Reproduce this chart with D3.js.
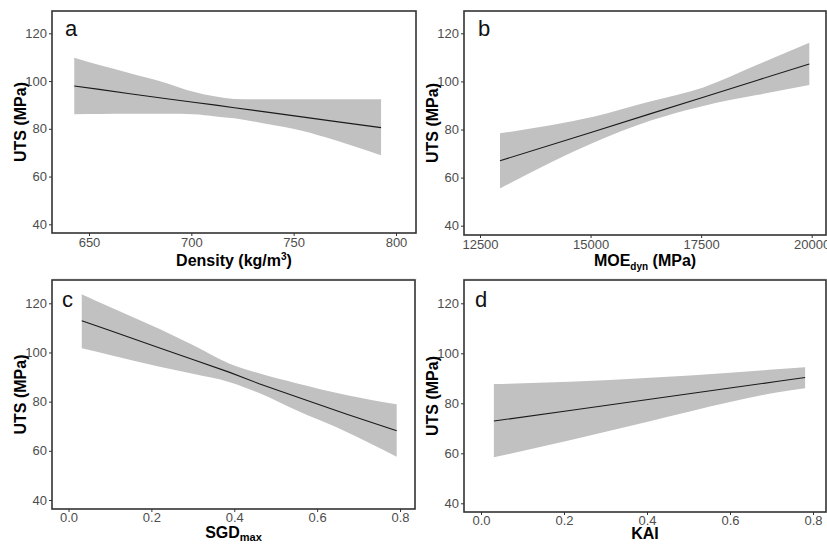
<!DOCTYPE html>
<html>
<head>
<meta charset="utf-8">
<script src="https://cdn.jsdelivr.net/npm/d3@7"></script>
<style>
  body{margin:0;background:#fff;}
  svg{display:block;font-family:"Liberation Sans",Arial,sans-serif;}
</style>
</head>
<body>
<svg id="chart" width="827" height="544"></svg>
<script>
// panel a : density
var aX   = [642.8, 655, 670, 688, 701, 712, 721, 737, 754, 770, 792.7];
var aFit = [97.9, 96.5, 94.7, 92.6, 91.1, 89.9, 88.8, 87.0, 85.0, 83.1, 80.5];
var aLo  = [86.1, 86.2, 86.3, 86.3, 86.1, 85.2, 84.4, 82.0, 79.2, 75.3, 68.9];
var aHi  = [109.8, 106.7, 103.3, 99.1, 95.5, 93.5, 92.5, 92.4, 92.4, 92.4, 92.4];
// panel b : MOEdyn
var bX   = [12952, 15062, 16344, 17549, 18755, 19946];
var bFit = [67.0, 79.1, 86.5, 93.4, 100.4, 107.2];
var bLo  = [55.5, 74.5, 83.6, 89.8, 94.3, 98.5];
var bHi  = [78.4, 85.3, 91.6, 97.5, 106.8, 116.1];
// panel c : SGDmax
var cX   = [0.032, 0.1, 0.22, 0.3, 0.389, 0.46, 0.55, 0.67, 0.792];
var cFit = [112.9, 108.9, 101.8, 97.1, 91.9, 87.3, 82.0, 75.0, 68.2];
var cLo  = [101.7, 99.0, 94.2, 91.3, 87.9, 83.5, 76.5, 67.8, 57.6];
var cHi  = [123.7, 118.5, 109.5, 103.0, 95.4, 91.5, 87.5, 82.7, 78.9];
// panel d : KAI
var dX   = [0.031, 0.214, 0.407, 0.6, 0.712, 0.781];
var dFit = [72.9, 77.1, 81.6, 86.1, 88.7, 90.3];
var dLo  = [58.4, 65.2, 72.8, 80.5, 84.3, 86.0];
var dHi  = [87.7, 88.6, 90.2, 92.2, 93.6, 94.4];

var yTicks = [40, 60, 80, 100, 120];
var aTicks = [650, 700, 750, 800];
var bTicks = [12500, 15000, 17500, 20000];
var cTicks = [0, 0.2, 0.4, 0.6, 0.8];
var dTicks = [0, 0.2, 0.4, 0.6, 0.8];

var svg = d3.select("#chart");

function rows(xs, fit, lo, hi){   // zip arrays into point objects
  return xs.map(function(x, i){ return {x:x, fit:fit[i], lo:lo[i], hi:hi[i]}; });
}

var panels = [
  {tag:"a", data:rows(aX,aFit,aLo,aHi), ticks:aTicks, fmt:d3.format("d"),
   box:[52,11,416,233], xr:[650,800,89,396], yr:[224.3,33.3],
   lab:[65,36], title:"density", ytx:20, ttly:266, pad:2},
  {tag:"b", data:rows(bX,bFit,bLo,bHi), ticks:bTicks, fmt:d3.format("d"),
   box:[464,11,826,235], xr:[12500,20000,480,811.7], yr:[225.7,33.3],
   lab:[478,36], title:"moe", ytx:432, ttly:266, pad:2},
  {tag:"c", data:rows(cX,cFit,cLo,cHi), ticks:cTicks, fmt:d3.format(".1f"),
   box:[52,280,415,509], xr:[0,0.8,68.5,400], yr:[500,303.3],
   lab:[62,307], title:"sgd", ytx:20, ttly:538, pad:1},
  {tag:"d", data:rows(dX,dFit,dLo,dHi), ticks:dTicks, fmt:d3.format(".1f"),
   box:[464,280,826,512], xr:[0,0.8,481,813], yr:[503.3,303.3],
   lab:[475,307], title:"kai", ytx:432, ttly:539, pad:1}
];

// faint strip under the top row
svg.append("line").attr("x1",52).attr("x2",417).attr("y1",279).attr("y2",279)
  .attr("stroke","#ececec").attr("stroke-width",1.5);
svg.append("line").attr("x1",463).attr("x2",827).attr("y1",279).attr("y2",279)
  .attr("stroke","#ececec").attr("stroke-width",1.5);

panels.forEach(function(p){
  var b = p.box;
  var x = d3.scaleLinear().domain([p.xr[0], p.xr[1]]).range([p.xr[2], p.xr[3]]);
  var y = d3.scaleLinear().domain([40, 120]).range(p.yr);
  var g = svg.append("g");

  var area = d3.area().curve(d3.curveMonotoneX)
    .x(function(d){ return x(d.x); })
    .y0(function(d){ return y(d.lo); })
    .y1(function(d){ return y(d.hi); });
  var line = d3.line()
    .x(function(d){ return x(d.x); })
    .y(function(d){ return y(d.fit); });

  g.append("path").datum(p.data).attr("d", area).attr("fill", "#c1c1c1");
  g.append("path").datum(p.data).attr("d", line)
    .attr("fill", "none").attr("stroke", "#1a1a1a").attr("stroke-width", 1.1);

  // axes
  var ya = g.append("g").attr("transform", "translate(" + b[0] + ",0)")
    .call(d3.axisLeft(y).tickValues(yTicks).tickSize(3).tickPadding(2));
  var xa = g.append("g").attr("transform", "translate(0," + b[3] + ")")
    .call(d3.axisBottom(x).tickValues(p.ticks).tickFormat(p.fmt).tickSize(3).tickPadding(p.pad));
  [ya, xa].forEach(function(ax){
    ax.select(".domain").remove();
    ax.selectAll("line").attr("stroke", "#333");
    ax.selectAll("text").attr("fill", "#4d4d4d").style("font-size", "13px")
      .style("font-family", "'Liberation Sans',Arial,sans-serif");
  });

  // panel frame
  g.append("rect").attr("x", b[0]).attr("y", b[1])
    .attr("width", b[2] - b[0]).attr("height", b[3] - b[1])
    .attr("fill", "none").attr("stroke", "#333").attr("stroke-width", 1.6);

  // panel letter
  g.append("text").attr("x", p.lab[0]).attr("y", p.lab[1])
    .style("font-size", "22px").attr("fill", "#111").text(p.tag);

  // y title
  g.append("text")
    .attr("transform", "translate(" + p.ytx + "," + ((b[1] + b[3]) / 2) + ") rotate(-90)")
    .attr("text-anchor", "middle").attr("dy", "0.36em")
    .style("font-size", "16px").style("font-weight", "bold").text("UTS (MPa)");

  // x title
  var t = g.append("text").attr("x", (b[0] + b[2]) / 2).attr("y", p.ttly)
    .attr("text-anchor", "middle").style("font-size", "16px").style("font-weight", "bold");
  if (p.title == "density") {
    t.append("tspan").text("Density (kg/m");
    t.append("tspan").attr("dy", -6).style("font-size", "10px").text("3");
    t.append("tspan").attr("dy", 6).text(")");
  } else if (p.title == "moe") {
    t.append("tspan").text("MOE");
    t.append("tspan").attr("dy", 4).style("font-size", "10px").text("dyn");
    t.append("tspan").attr("dy", -4).text(" (MPa)");
  } else if (p.title == "sgd") {
    t.append("tspan").text("SGD");
    t.append("tspan").attr("dy", 3).style("font-size", "11px").text("max");
  } else {
    t.text("KAI");
  }
});
</script>
</body>
</html>
